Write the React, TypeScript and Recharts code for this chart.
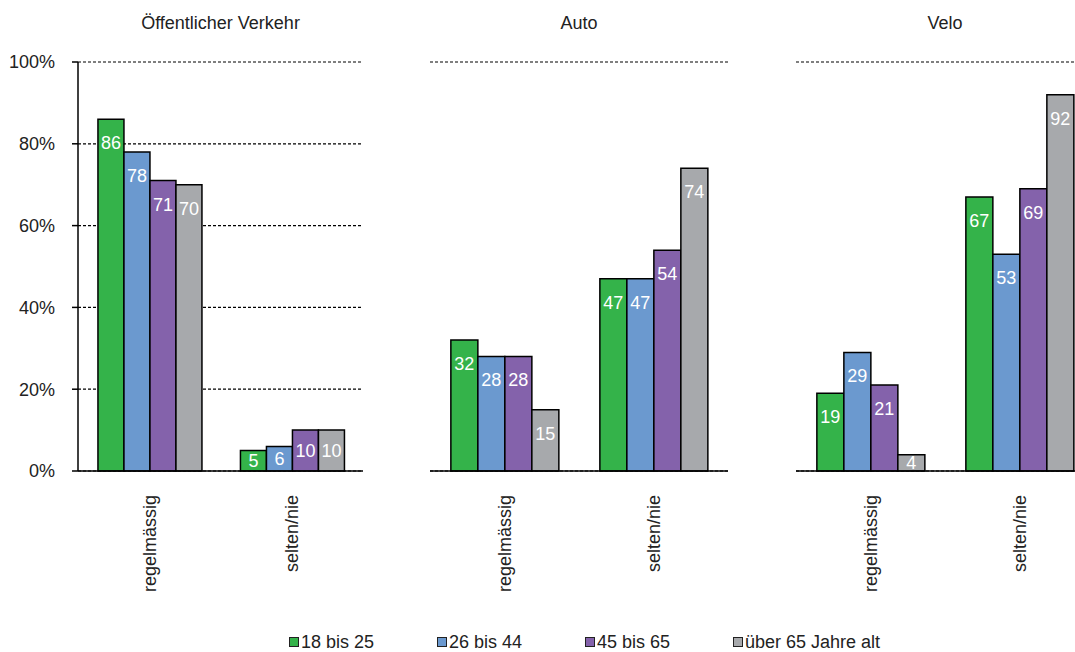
import React from 'react';
import { BarChart, Bar, XAxis, YAxis, CartesianGrid, LabelList } from 'recharts';

const categories = ['regelmässig', 'selten/nie'];
const seriesNames = ['18 bis 25', '26 bis 44', '45 bis 65', 'über 65 Jahre alt'];
const COLORS = ['#34b34a', '#6b99cf', '#8462ab', '#a7a9ac'];
const yTicks = [0, 20, 40, 60, 80, 100];

// values per panel: [regelmässig, selten/nie] for each age group
const oevValues = [
  [86, 5],
  [78, 6],
  [71, 10],
  [70, 10],
];
const autoValues = [
  [32, 47],
  [28, 47],
  [28, 54],
  [15, 74],
];
const veloValues = [
  [19, 67],
  [29, 53],
  [21, 69],
  [4, 92],
];

const FONT = '"Liberation Sans", Arial, sans-serif';
const KEYS = ['a', 'b', 'c', 'd'];

function buildRows(values: number[][]) {
  return categories.map((name, ci) => {
    const row: Record<string, string | number> = { name };
    values.forEach((series, si) => {
      row[KEYS[si]] = series[ci];
    });
    return row;
  });
}

const CategoryTick = (props: any) => {
  const { x, y, payload } = props;
  const ty = y + 16;
  return (
    <text
      x={x}
      y={ty}
      transform={`rotate(-90 ${x} ${ty})`}
      textAnchor="end"
      dy="0.35em"
      fill="#222"
      fontSize={18}
      fontFamily={FONT}
    >
      {payload.value}
    </text>
  );
};

const ValueLabel = (props: any) => {
  const { x, y, width, height, value } = props;
  const cy = y + Math.min(24, height / 2);
  return (
    <text
      x={x + width / 2}
      y={cy}
      textAnchor="middle"
      dominantBaseline="central"
      fill="#fff"
      fontSize={18}
      fontFamily={FONT}
    >
      {value}
    </text>
  );
};

interface PanelProps {
  title: string;
  values: number[][];
  left: number;
  width: number;
  showAxis?: boolean;
}

function Panel({ title, values, left, width, showAxis }: PanelProps) {
  const rows = buildRows(values);
  const axisW = showAxis ? 78 : 0;
  const plotCenter = left + axisW + (width - axisW - (showAxis ? 7 : 0)) / 2;
  return (
    <>
      <div
        style={{
          position: 'absolute',
          top: 13,
          left: plotCenter - 150,
          width: 300,
          textAlign: 'center',
          fontSize: 18,
          fontFamily: FONT,
          color: '#222',
        }}
      >
        {title}
      </div>
      <div style={{ position: 'absolute', top: 0, left }}>
        <BarChart
          width={width}
          height={620}
          data={rows}
          margin={{ top: 62, right: showAxis ? 7 : 0, bottom: 0, left: 0 }}
          barCategoryGap="14%"
          barGap={0}
        >
          <CartesianGrid vertical={false} stroke="#000" strokeWidth={1.2} strokeDasharray="3 2" />
          <XAxis
            dataKey="name"
            height={149}
            interval={0}
            tick={<CategoryTick />}
            tickLine={false}
            axisLine={{ stroke: '#000', strokeWidth: 1.5 }}
          />
          {showAxis ? (
            <YAxis
              width={78}
              domain={[0, 100]}
              ticks={yTicks}
              tickFormatter={(v: number) => `${v}%`}
              tickSize={6}
              tickMargin={17}
              tick={{ fill: '#222', fontSize: 18, fontFamily: FONT }}
              tickLine={{ stroke: '#000', strokeWidth: 1.5 }}
              axisLine={{ stroke: '#000', strokeWidth: 1.5 }}
            />
          ) : (
            <YAxis
              width={0}
              domain={[0, 100]}
              ticks={yTicks}
              tick={false}
              tickLine={false}
              axisLine={false}
            />
          )}
          {KEYS.map((k, i) => (
            <Bar
              key={k}
              dataKey={k}
              name={seriesNames[i]}
              fill={COLORS[i]}
              stroke="#000"
              strokeWidth={1.5}
              isAnimationActive={false}
            >
              <LabelList dataKey={k} content={<ValueLabel />} />
            </Bar>
          ))}
        </BarChart>
      </div>
    </>
  );
}

const legendX = [289, 437, 585, 733];

export default function App() {
  return (
    <div
      style={{
        position: 'absolute',
        top: 0,
        left: 0,
        width: 1075,
        height: 652,
        overflow: 'hidden',
        background: '#fff',
      }}
    >
      <Panel title="Öffentlicher Verkehr" values={oevValues} left={0} width={370} showAxis />
      <Panel title="Auto" values={autoValues} left={430} width={298} />
      <Panel title="Velo" values={veloValues} left={796} width={298} />
      {seriesNames.map((name, i) => (
        <div
          key={name}
          style={{
            position: 'absolute',
            left: legendX[i],
            top: 633,
            height: 18,
            lineHeight: '18px',
            display: 'flex',
            alignItems: 'center',
            fontSize: 18,
            fontFamily: FONT,
            color: '#222',
            whiteSpace: 'nowrap',
          }}
        >
          <span
            style={{
              display: 'inline-block',
              width: 8,
              height: 8,
              background: COLORS[i],
              border: '1px solid #222',
              marginRight: 2,
            }}
          />
          {name}
        </div>
      ))}
    </div>
  );
}
